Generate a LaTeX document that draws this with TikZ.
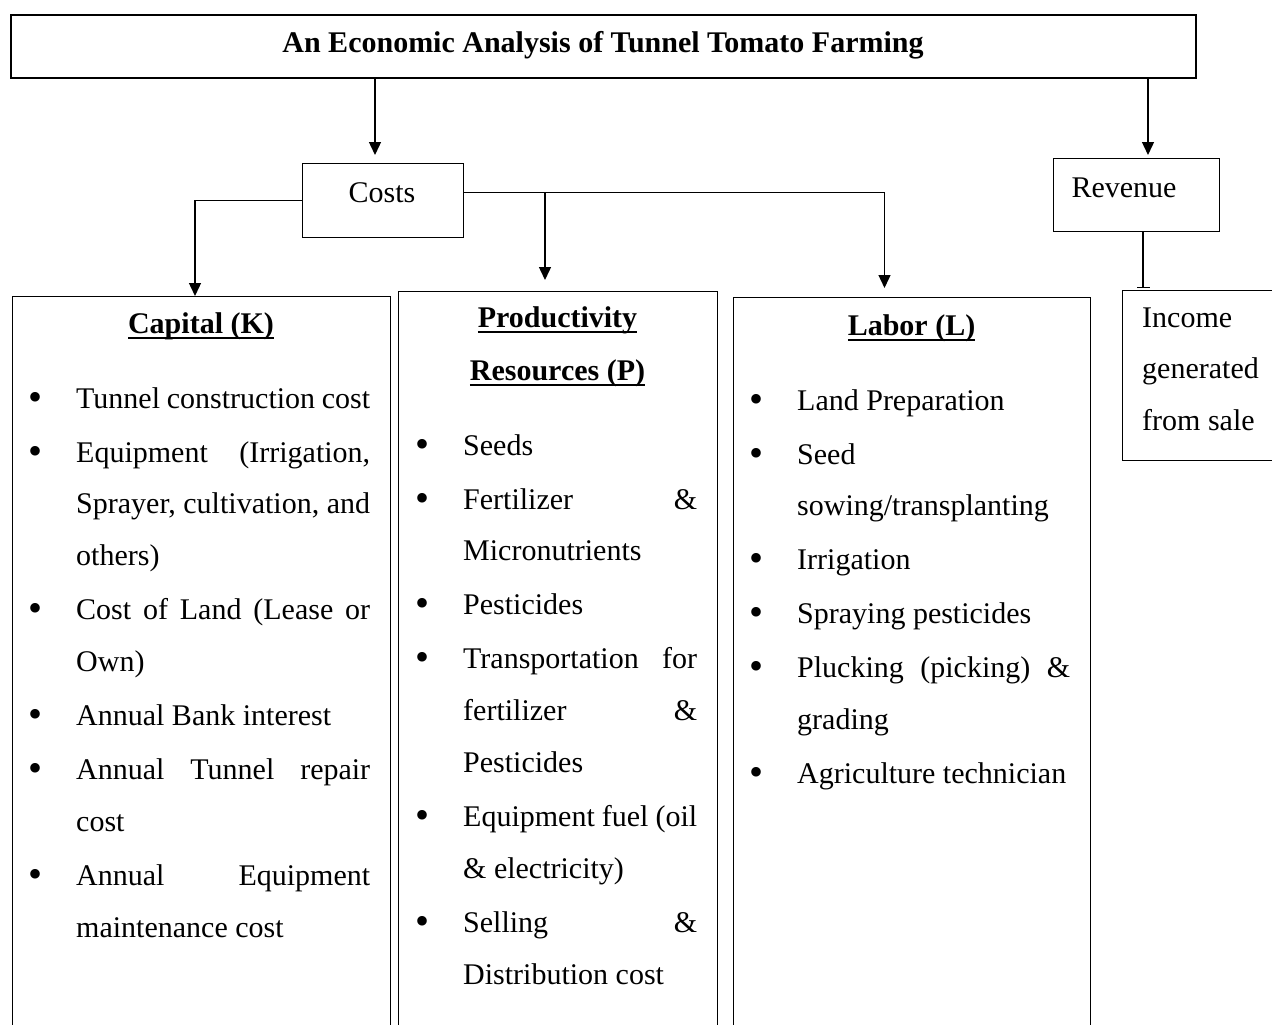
\documentclass[tikz,border=0pt]{standalone}
\usepackage{fontspec}
\setmainfont{Liberation Serif}
\usepackage{graphicx}
\usetikzlibrary{arrows.meta}
\newsavebox\ulbox
\newcommand\ulh[1]{\sbox\ulbox{#1}\rlap{\rule[-6pt]{\wd\ulbox}{2.4pt}}\usebox\ulbox}
\newcommand\bul{\leavevmode\llap{\raisebox{-2pt}{\fontsize{40}{40}\selectfont\textbullet}\hspace{34pt}}}
\newcommand\jl[1]{\makebox[\linewidth][s]{#1}}
\newcommand\setlist{\fontsize{30}{51.8}\selectfont\setlength\parindent{0pt}}
\tikzset{
  box/.style={draw, line width=1pt, inner sep=0pt, anchor=north west},
  conn/.style={line width=1.4pt},
  arr/.style={conn, -{Triangle[length=13pt,width=12pt]}},
  txt/.style={inner sep=0pt, font=\fontsize{30}{51.8}\selectfont},
  head/.style={txt, font=\fontsize{30}{51.8}\selectfont\bfseries, anchor=base},
}
\begin{document}
\begin{tikzpicture}[x=1pt,y=-1pt]
\useasboundingbox (0,0) rectangle (1272,1025);
\clip (0,0) rectangle (1272,1025);

% boxes
\node[box, line width=1.6pt, minimum width=1185pt, minimum height=63pt] (title) at (10,14) {};
\node[head] (titletxt) at (603,53) {An Economic Analysis of Tunnel Tomato Farming};

\node[box, line width=1.3pt, minimum width=161pt, minimum height=74pt] (costs) at (302,163) {};
\node[txt, anchor=base] (coststxt) at (382,202) {Costs};

\node[box, line width=1.3pt, minimum width=166pt, minimum height=73pt] (rev) at (1053,158) {};
\node[txt, anchor=base] (revtxt) at (1124,197) {Revenue};

\node[box, minimum width=378pt, minimum height=800pt] (cap) at (12,296) {};
\node[box, minimum width=319pt, minimum height=800pt] (prod) at (398,291) {};
\node[box, minimum width=357pt, minimum height=800pt] (lab) at (733,297) {};
\node[box, minimum width=200pt, minimum height=170pt] (inc) at (1122,290) {};

% headings
\node[head] (caph) at (201,333) {\ulh{Capital (K)}};
\node[head] (prodh1) at (557.5,327) {\ulh{Productivity}};
\node[head] (prodh2) at (557.5,380) {\ulh{Resources (P)}};
\node[head] (labh) at (911.5,335) {\ulh{Labor (L)}};

% lists
\node[txt, anchor=base west] (capl) at (76,408) {\begin{minipage}[t]{294pt}\setlist
\bul Tunnel construction cost\\[2.2pt]
\bul\jl{Equipment (Irrigation,}\\
\jl{Sprayer, cultivation, and}\\
others)\\[2.2pt]
\bul\jl{Cost of Land (Lease or}\\
Own)\\[2.2pt]
\bul Annual Bank interest\\[2.2pt]
\bul\jl{Annual Tunnel repair}\\
cost\\[2.2pt]
\bul\jl{Annual Equipment}\\
maintenance cost
\end{minipage}};

\node[txt, anchor=base west] (prodl) at (463,455) {\begin{minipage}[t]{234pt}\setlist
\bul Seeds\\[2.2pt]
\bul\jl{Fertilizer \&}\\
Micronutrients\\[2.2pt]
\bul Pesticides\\[2.2pt]
\bul\jl{Transportation for}\\
\jl{fertilizer \&}\\
Pesticides\\[2.2pt]
\bul\jl{Equipment fuel (oil}\\
\& electricity)\\[2.2pt]
\bul\jl{Selling \&}\\
Distribution cost
\end{minipage}};

\node[txt, anchor=base west] (labl) at (797,410) {\begin{minipage}[t]{273pt}\setlist
\bul Land Preparation\\[2.2pt]
\bul Seed\\
sowing/transplanting\\[2.2pt]
\bul Irrigation\\[2.2pt]
\bul Spraying pesticides\\[2.2pt]
\bul\jl{Plucking (picking) \&}\\
grading\\[2.2pt]
\bul Agriculture technician
\end{minipage}};

\node[txt, anchor=base west] (incl) at (1142,327) {\begin{minipage}[t]{128pt}\setlist
Income\\
generated\\
from sale
\end{minipage}};

% connectors
\coordinate (t1) at (375,0);
\coordinate (t2) at (1148,0);
\coordinate (c1) at (195,0);
\coordinate (c2) at (545,0);
\coordinate (r1) at (1143,0);
\coordinate (cr) at ([yshift=8pt]costs.east);
\draw[arr, shorten >=8pt] (title.south -| t1) -- (costs.north -| t1);
\draw[arr, shorten >=3pt] (title.south -| t2) -- (rev.north -| t2);
\draw[arr] (costs.west) -| (cap.north -| c1);
\draw[arr, shorten >=9pt] (cr) -| ([xshift=-27.5pt]lab.north);
\draw[arr, shorten >=11pt] (cr -| c2) -- (prod.north -| c2);
\draw[conn, -{Bar[width=13pt,line width=1.4pt]}, shorten >=2pt] (rev.south -| r1) -- (inc.north -| r1);
\end{tikzpicture}
\end{document}
